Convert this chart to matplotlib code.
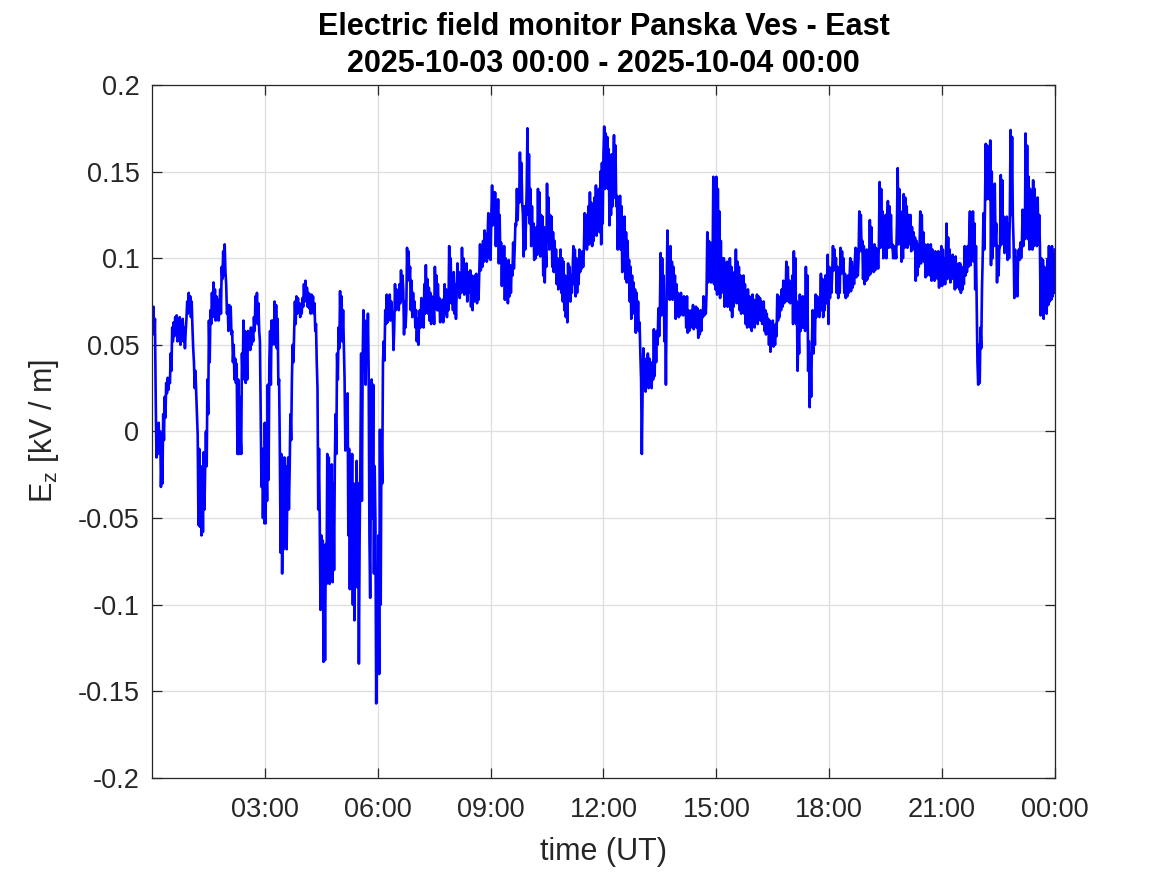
import numpy as np
import matplotlib
matplotlib.use('Agg')
import matplotlib.pyplot as plt

### readings of Ez [kV/m], equally spaced within each block (block start/end hours)
block_a = (0.00, 2.99, [
    0.070, 0.060, 0.072, 0.056, 0.065, 0.020, -0.015, -0.005, -0.013, 0.005, -0.010, 0.000, -0.032, -0.015,
    -0.030, 0.010, -0.005, 0.020, 0.008, 0.028, 0.022, 0.031, 0.024, 0.030, 0.028, 0.045, 0.035, 0.060,
    0.052, 0.063, 0.055, 0.066, 0.056, 0.067, 0.052, 0.064, 0.058, 0.066, 0.050, 0.064, 0.054, 0.065,
    0.052, 0.060, 0.048, 0.058, 0.065, 0.075, 0.068, 0.080, 0.070, 0.078, 0.066, 0.075, 0.060, 0.048,
    0.040, 0.025, 0.035, 0.022, 0.010, -0.002, -0.054, -0.010, -0.055, -0.020, -0.060, -0.025, -0.058,
    -0.012, -0.045, -0.020, 0.000, -0.020, 0.030, 0.010, 0.064, 0.040, 0.070, 0.062, 0.080, 0.066, 0.086,
    0.070, 0.082, 0.064, 0.078, 0.066, 0.076, 0.064, 0.072, 0.082, 0.068, 0.095, 0.088, 0.104, 0.090,
    0.108, 0.092, 0.085, 0.068, 0.073, 0.058, 0.073, 0.060, 0.072, 0.056, 0.058, 0.040, 0.050, 0.030,
    0.042, 0.028, 0.039, -0.013, 0.030, -0.013, 0.020, 0.000, -0.013, 0.045, 0.030, 0.064, 0.040, 0.058,
    0.028, 0.050, 0.030, 0.058, 0.048, 0.057, 0.047, 0.060, 0.050, 0.058, 0.052, 0.066, 0.058, 0.078,
    0.066, 0.080, 0.062, 0.074, 0.058, 0.052, 0.010, -0.032, -0.010, -0.050, -0.020, -0.053])
block_b = (3.00, 6.14, [
    0.005, -0.053, -0.010, -0.040, 0.027, -0.028, 0.040, 0.058, 0.027, 0.064, 0.050, 0.064, 0.052, 0.075,
    0.050, 0.073, 0.048, 0.065, 0.027, 0.030, -0.013, -0.070, -0.013, -0.082, -0.040, -0.068, -0.015,
    -0.060, -0.020, -0.068, -0.030, -0.015, -0.045, -0.022, 0.010, -0.005, 0.030, 0.050, 0.040, 0.058,
    0.075, 0.062, 0.078, 0.068, 0.077, 0.070, 0.074, 0.066, 0.072, 0.068, 0.077, 0.072, 0.085, 0.075,
    0.087, 0.076, 0.083, 0.072, 0.080, 0.071, 0.079, 0.068, 0.079, 0.070, 0.078, 0.068, 0.074, 0.058,
    0.062, 0.040, 0.025, -0.045, -0.010, -0.053, -0.103, -0.060, -0.095, -0.063, -0.133, -0.070, -0.132,
    -0.065, -0.088, -0.013, -0.070, -0.015, -0.088, -0.020, -0.060, -0.019, -0.087, -0.030, -0.080,
    -0.020, 0.010, -0.013, 0.045, 0.030, 0.060, 0.048, 0.081, 0.055, 0.078, 0.052, 0.070, 0.050, 0.030,
    -0.011, 0.020, 0.000, 0.022, -0.060, -0.010, -0.091, -0.020, -0.070, -0.013, -0.100, -0.030, -0.109,
    -0.040, -0.080, -0.017, -0.090, -0.030, -0.134, -0.060, -0.017, 0.045, -0.040, 0.040, 0.070, 0.035,
    0.064, 0.027, 0.060, 0.040, 0.068, 0.035, -0.060, -0.096, -0.020, 0.030, -0.050, 0.027, -0.082,
    -0.020, -0.053, -0.157, -0.090, -0.140, -0.060, -0.140, 0.001, -0.100, 0.000, -0.030, 0.040])
block_c = (6.16, 8.92, [
    0.052, 0.041, 0.070, 0.062, 0.079, 0.063, 0.078, 0.065, 0.079, 0.064, 0.075, 0.068, 0.068, 0.047,
    0.060, 0.085, 0.070, 0.082, 0.072, 0.080, 0.070, 0.085, 0.074, 0.093, 0.076, 0.090, 0.081, 0.056,
    0.075, 0.060, 0.070, 0.106, 0.090, 0.104, 0.087, 0.095, 0.070, 0.087, 0.066, 0.080, 0.068, 0.075,
    0.060, 0.070, 0.052, 0.065, 0.050, 0.062, 0.070, 0.060, 0.077, 0.062, 0.072, 0.060, 0.085, 0.068,
    0.096, 0.070, 0.088, 0.068, 0.083, 0.064, 0.080, 0.062, 0.078, 0.066, 0.075, 0.062, 0.095, 0.072,
    0.090, 0.070, 0.085, 0.070, 0.077, 0.063, 0.075, 0.064, 0.076, 0.063, 0.072, 0.085, 0.068, 0.082,
    0.066, 0.080, 0.070, 0.107, 0.080, 0.100, 0.074, 0.090, 0.070, 0.092, 0.068, 0.085, 0.065, 0.080,
    0.097, 0.080, 0.092, 0.077, 0.090, 0.080, 0.106, 0.085, 0.100, 0.079, 0.095, 0.085, 0.097, 0.075,
    0.092, 0.080, 0.088, 0.093, 0.072, 0.090, 0.070, 0.085, 0.075, 0.090, 0.078, 0.091, 0.074, 0.088,
    0.076, 0.092, 0.108, 0.093, 0.105, 0.095, 0.110, 0.098, 0.116, 0.100, 0.114, 0.098, 0.112])
block_d = (8.94, 11.96, [
    0.126, 0.100, 0.120, 0.099, 0.125, 0.142, 0.119, 0.138, 0.120, 0.138, 0.107, 0.130, 0.110, 0.134,
    0.097, 0.125, 0.100, 0.109, 0.084, 0.105, 0.088, 0.107, 0.076, 0.100, 0.080, 0.098, 0.074, 0.099,
    0.078, 0.096, 0.080, 0.095, 0.090, 0.109, 0.094, 0.105, 0.120, 0.119, 0.140, 0.122, 0.138, 0.132,
    0.161, 0.135, 0.155, 0.132, 0.125, 0.101, 0.130, 0.105, 0.120, 0.140, 0.175, 0.125, 0.160, 0.120,
    0.140, 0.107, 0.130, 0.110, 0.120, 0.099, 0.115, 0.100, 0.118, 0.102, 0.140, 0.105, 0.138, 0.101,
    0.125, 0.108, 0.124, 0.090, 0.118, 0.086, 0.110, 0.095, 0.143, 0.110, 0.135, 0.105, 0.125, 0.110,
    0.124, 0.095, 0.115, 0.092, 0.110, 0.095, 0.105, 0.085, 0.100, 0.082, 0.098, 0.088, 0.105, 0.080,
    0.100, 0.075, 0.098, 0.070, 0.090, 0.066, 0.080, 0.063, 0.097, 0.080, 0.095, 0.075, 0.090, 0.080,
    0.092, 0.107, 0.085, 0.105, 0.078, 0.100, 0.080, 0.095, 0.085, 0.105, 0.092, 0.100, 0.094, 0.104,
    0.095, 0.105, 0.126, 0.106, 0.125, 0.105, 0.115, 0.130, 0.108, 0.138, 0.110, 0.132, 0.107, 0.128,
    0.110, 0.135, 0.115, 0.142, 0.113, 0.138, 0.118, 0.140, 0.115, 0.150, 0.108, 0.155])
block_e = (11.98, 14.98, [
    0.120, 0.160, 0.176, 0.140, 0.172, 0.145, 0.170, 0.140, 0.163, 0.119, 0.155, 0.125, 0.160, 0.130,
    0.150, 0.171, 0.135, 0.165, 0.130, 0.136, 0.105, 0.125, 0.110, 0.136, 0.105, 0.130, 0.092, 0.120,
    0.095, 0.124, 0.088, 0.115, 0.086, 0.110, 0.090, 0.099, 0.075, 0.095, 0.065, 0.090, 0.068, 0.086,
    0.070, 0.082, 0.057, 0.080, 0.060, 0.075, 0.058, 0.063, 0.045, 0.030, -0.013, 0.023, 0.048, 0.025,
    0.042, 0.023, 0.040, 0.028, 0.045, 0.025, 0.042, 0.026, 0.038, 0.025, 0.040, 0.030, 0.059, 0.032,
    0.055, 0.040, 0.058, 0.050, 0.071, 0.055, 0.070, 0.103, 0.067, 0.100, 0.070, 0.090, 0.052, 0.075,
    0.027, 0.080, 0.116, 0.080, 0.105, 0.076, 0.107, 0.078, 0.098, 0.076, 0.095, 0.080, 0.090, 0.065,
    0.085, 0.068, 0.080, 0.066, 0.078, 0.067, 0.080, 0.068, 0.077, 0.067, 0.078, 0.070, 0.076, 0.060,
    0.078, 0.057, 0.070, 0.058, 0.068, 0.062, 0.070, 0.060, 0.073, 0.059, 0.070, 0.062, 0.072, 0.060,
    0.071, 0.054, 0.068, 0.056, 0.070, 0.058, 0.069, 0.066, 0.078, 0.067, 0.076, 0.068, 0.080, 0.115,
    0.086, 0.110, 0.090, 0.109, 0.086, 0.105, 0.095, 0.147, 0.085, 0.130, 0.082])
block_f = (15.00, 17.98, [
    0.147, 0.079, 0.140, 0.100, 0.127, 0.077, 0.110, 0.080, 0.100, 0.090, 0.100, 0.072, 0.095, 0.075,
    0.098, 0.072, 0.090, 0.080, 0.100, 0.070, 0.095, 0.066, 0.090, 0.072, 0.092, 0.080, 0.105, 0.074,
    0.098, 0.080, 0.095, 0.070, 0.090, 0.068, 0.085, 0.072, 0.090, 0.068, 0.085, 0.062, 0.080, 0.060,
    0.082, 0.065, 0.078, 0.060, 0.075, 0.058, 0.079, 0.062, 0.076, 0.060, 0.075, 0.065, 0.079, 0.062,
    0.078, 0.065, 0.077, 0.064, 0.075, 0.062, 0.072, 0.075, 0.058, 0.070, 0.056, 0.068, 0.058, 0.065,
    0.050, 0.064, 0.046, 0.058, 0.050, 0.064, 0.049, 0.060, 0.050, 0.062, 0.055, 0.079, 0.064, 0.075,
    0.066, 0.078, 0.070, 0.082, 0.072, 0.087, 0.074, 0.085, 0.075, 0.098, 0.078, 0.095, 0.075, 0.087,
    0.074, 0.085, 0.076, 0.090, 0.062, 0.104, 0.070, 0.100, 0.062, 0.075, 0.035, 0.060, 0.045, 0.079,
    0.058, 0.075, 0.060, 0.078, 0.060, 0.070, 0.058, 0.095, 0.060, 0.090, 0.035, 0.052, 0.014, 0.045,
    0.020, 0.050, 0.070, 0.045, 0.065, 0.050, 0.079, 0.066, 0.078, 0.068, 0.076, 0.066, 0.075, 0.091,
    0.070, 0.088, 0.066, 0.085, 0.070, 0.090, 0.074, 0.085, 0.102, 0.062])
block_g = (18.00, 20.98, [
    0.095, 0.077, 0.090, 0.080, 0.092, 0.107, 0.093, 0.105, 0.095, 0.100, 0.080, 0.095, 0.077, 0.090,
    0.080, 0.106, 0.091, 0.104, 0.092, 0.100, 0.080, 0.091, 0.077, 0.088, 0.078, 0.090, 0.080, 0.088,
    0.100, 0.081, 0.098, 0.083, 0.095, 0.085, 0.098, 0.106, 0.089, 0.105, 0.090, 0.100, 0.127, 0.104,
    0.125, 0.105, 0.110, 0.088, 0.107, 0.085, 0.100, 0.087, 0.105, 0.088, 0.100, 0.090, 0.122, 0.091,
    0.118, 0.095, 0.105, 0.092, 0.108, 0.093, 0.106, 0.095, 0.105, 0.094, 0.108, 0.144, 0.106, 0.140,
    0.110, 0.127, 0.100, 0.122, 0.102, 0.125, 0.100, 0.120, 0.133, 0.106, 0.130, 0.108, 0.125, 0.106,
    0.108, 0.100, 0.107, 0.100, 0.106, 0.100, 0.120, 0.152, 0.108, 0.140, 0.110, 0.127, 0.098, 0.120,
    0.100, 0.137, 0.106, 0.135, 0.110, 0.130, 0.106, 0.125, 0.108, 0.120, 0.125, 0.104, 0.118, 0.105,
    0.115, 0.106, 0.112, 0.087, 0.110, 0.090, 0.108, 0.095, 0.105, 0.127, 0.097, 0.125, 0.100, 0.115,
    0.098, 0.108, 0.089, 0.105, 0.090, 0.108, 0.092, 0.100, 0.090, 0.108, 0.087, 0.105, 0.090, 0.100,
    0.087, 0.104, 0.090, 0.100, 0.088, 0.104, 0.083, 0.100, 0.085, 0.107])
block_h = (21.00, 24.00, [
    0.084, 0.105, 0.086, 0.100, 0.085, 0.100, 0.120, 0.088, 0.112, 0.090, 0.105, 0.086, 0.100, 0.088,
    0.102, 0.090, 0.100, 0.082, 0.101, 0.083, 0.095, 0.085, 0.097, 0.082, 0.097, 0.080, 0.095, 0.082,
    0.093, 0.085, 0.107, 0.090, 0.103, 0.092, 0.107, 0.095, 0.110, 0.127, 0.096, 0.125, 0.100, 0.127,
    0.098, 0.120, 0.082, 0.107, 0.073, 0.040, 0.027, 0.050, 0.028, 0.060, 0.048, 0.082, 0.101, 0.126,
    0.105, 0.130, 0.166, 0.134, 0.165, 0.138, 0.160, 0.134, 0.168, 0.096, 0.150, 0.100, 0.140, 0.107,
    0.143, 0.110, 0.120, 0.086, 0.107, 0.090, 0.105, 0.107, 0.148, 0.108, 0.145, 0.110, 0.124, 0.103,
    0.120, 0.105, 0.124, 0.099, 0.120, 0.100, 0.124, 0.174, 0.125, 0.170, 0.124, 0.109, 0.077, 0.105,
    0.080, 0.100, 0.078, 0.100, 0.105, 0.099, 0.109, 0.100, 0.107, 0.128, 0.107, 0.125, 0.111, 0.172,
    0.115, 0.165, 0.111, 0.147, 0.105, 0.140, 0.110, 0.135, 0.105, 0.145, 0.107, 0.140, 0.110, 0.130,
    0.107, 0.135, 0.108, 0.125, 0.107, 0.067, 0.100, 0.070, 0.099, 0.065, 0.095, 0.070, 0.090, 0.068,
    0.099, 0.073, 0.107, 0.075, 0.100, 0.076, 0.107, 0.078, 0.100, 0.080, 0.105])

x_tick_hours = [3, 6, 9, 12, 15, 18, 21, 24]
x_tick_labels = ['03:00', '06:00', '09:00', '12:00', '15:00', '18:00', '21:00', '00:00']
y_ticks = [-0.2, -0.15, -0.1, -0.05, 0, 0.05, 0.1, 0.15, 0.2]
y_tick_labels = ['-0.2', '-0.15', '-0.1', '-0.05', '0', '0.05', '0.1', '0.15', '0.2']

### join blocks
hours = []
ez = []
for t0, t1, vals in [block_a, block_b, block_c, block_d, block_e, block_f, block_g, block_h]:
    hours.append(np.linspace(t0, t1, len(vals)))
    ez.append(np.array(vals))
hours = np.concatenate(hours)
ez = np.concatenate(ez)

plt.rcParams['font.family'] = ['Liberation Sans', 'DejaVu Sans']
plt.rcParams['mathtext.default'] = 'regular'
dark = '#262626'

fig = plt.figure(figsize=(11.67, 8.75), dpi=100)
ax = fig.add_axes([0.1302, 0.1109, 0.7738, 0.792])
ax.plot(hours, ez, color=(0, 0, 1), lw=1.9)

ax.set_xlim(0, 24)
ax.set_ylim(-0.2, 0.2)
ax.set_xticks(x_tick_hours)
ax.set_xticklabels(x_tick_labels)
ax.set_yticks(y_ticks)
ax.set_yticklabels(y_tick_labels)
ax.grid(True, color='#dedede', lw=0.9)
ax.set_axisbelow(True)
ax.tick_params(direction='in', length=7, width=0.9, top=True, right=True,
               labelsize=19.5, colors=dark)
ax.tick_params(axis='x', pad=14)
ax.tick_params(axis='y', pad=9)
for sp in ax.spines.values():
    sp.set_color(dark)
    sp.set_linewidth(0.9)

ax.set_xlabel('time (UT)', fontsize=22, color=dark, labelpad=10)
ax.set_ylabel('E$_z$ [kV / m]', fontsize=22, color=dark, labelpad=12)
ax.set_title('Electric field monitor Panska Ves - East\n2025-10-03 00:00 - 2025-10-04 00:00',
             fontsize=22, fontweight='bold', color='k', linespacing=1.33, pad=9)

fig.savefig('out.png', dpi=100, facecolor='white')
